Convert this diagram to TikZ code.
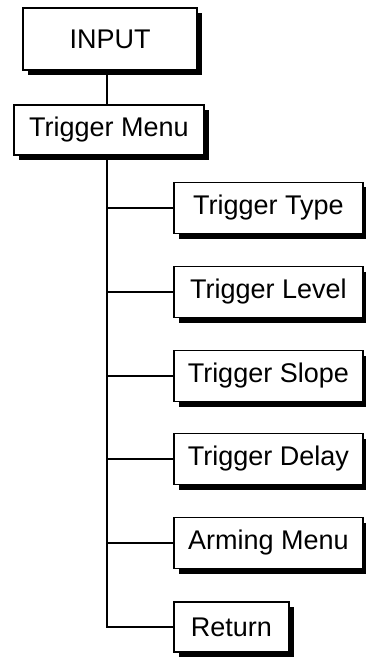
\documentclass[tikz,border=0pt]{standalone}
\usepackage{fontspec}
\setmainfont{Liberation Sans}
\usetikzlibrary{shadows}
\begin{document}
\begin{tikzpicture}[x=1pt,y=-1pt,
  menubox/.style={draw=black, fill=white, line width=1.6pt, inner sep=0pt,
    font=\fontsize{27}{30}\selectfont,
    drop shadow={shadow xshift=5pt, shadow yshift=-5pt, fill=black, opacity=1}},
  wire/.style={line width=1.5pt}]
\useasboundingbox (0,0) rectangle (366,660);
\node[menubox, minimum width=174pt, minimum height=62pt] (input) at (110,39) {INPUT};
\node[menubox, minimum width=190pt, minimum height=50pt, anchor=north west] (tmenu) at (13,104) {Trigger Menu};
\coordinate (trunk) at (107,0);
\foreach \n/\t/\yy in {type/Trigger Type/208, level/Trigger Level/292, slope/Trigger Slope/376,
    delay/Trigger Delay/459, arming/Arming Menu/543}{
  \node[menubox, minimum width=189pt, minimum height=51pt, anchor=west] (\n) at (173,\yy) {\t};
}
\node[menubox, minimum width=115pt, minimum height=50pt, anchor=west] (return) at (173,627) {Return};
\draw[wire] (input.south -| trunk) -- (tmenu.north -| trunk);
\draw[wire] (tmenu.south -| trunk) -- (return.west -| trunk) -- (return.west);
\foreach \n in {type,level,slope,delay,arming}{
  \draw[wire] (\n.west -| trunk) -- (\n.west);
}
\end{tikzpicture}
\end{document}
